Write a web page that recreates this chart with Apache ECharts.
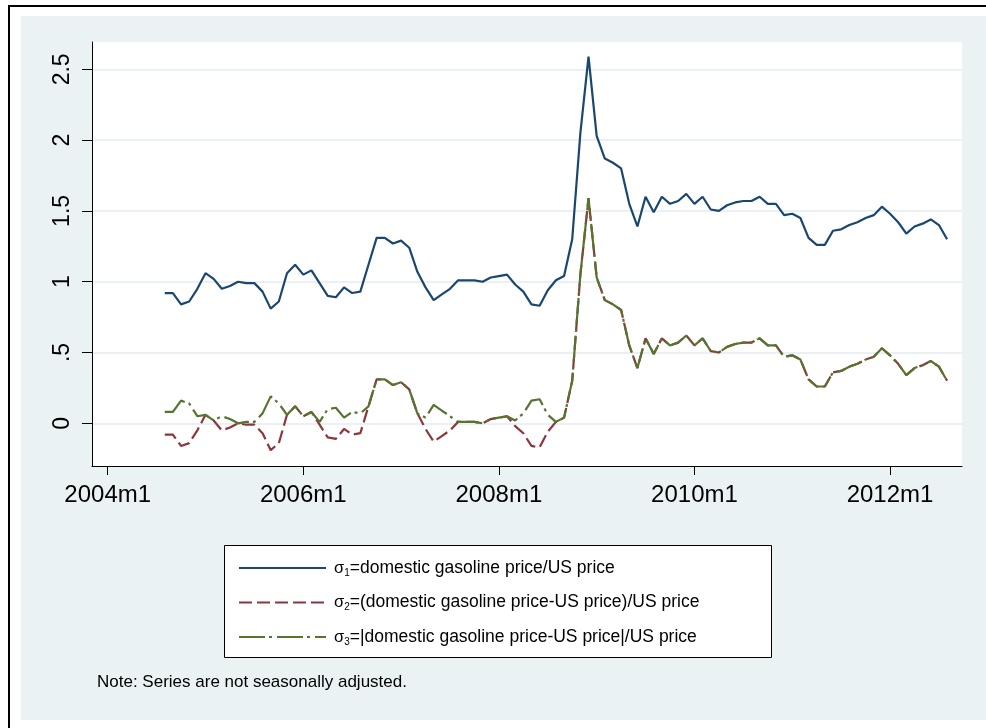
<!DOCTYPE html>
<html><head><meta charset="utf-8">
<script src="https://cdn.jsdelivr.net/npm/echarts@6/dist/echarts.min.js"></script>
<style>
html,body{margin:0;padding:0;background:#fff;}
#wrap{position:relative;width:986px;height:728px;overflow:hidden;background:#fff;}
#frame{position:absolute;left:8px;top:5px;width:1200px;height:1000px;border:2px solid #000;box-sizing:border-box;}
#panel{position:absolute;left:21px;top:16px;width:1000px;height:704px;background:#eaf2f3;}
#chart{position:absolute;left:0;top:0;width:986px;height:728px;}
</style></head><body>
<div id="wrap"><div id="frame"></div><div id="panel"></div><div id="chart"></div></div>
<script>
// first observation: 2004m8, monthly through 2012m8
const firstYear = 2004, firstMonth = 8;

const sigma1 = [
  0.92,0.92,0.84,0.86,0.95,1.06,1.02,0.95,0.97,1.00,0.99,0.99,0.93,0.81,0.86,1.06,1.12,
  1.05,1.08,0.99,0.90,0.89,0.96,0.92,0.93,1.12,1.31,1.31,1.27,
  1.29,1.24,1.07,0.96,0.87,0.91,0.95,1.01,1.01,1.01,1.00,1.03,
  1.04,1.05,0.98,0.93,0.84,0.83,0.94,1.01,1.04,1.30,2.05,2.59,
  2.03,1.87,1.84,1.80,1.55,1.39,1.60,1.49,1.60,1.55,1.57,1.62,
  1.55,1.60,1.51,1.50,1.54,1.56,1.57,1.57,1.60,1.55,1.55,1.47,
  1.48,1.45,1.31,1.26,1.26,1.36,1.37,1.40,1.42,1.45,1.47,1.53,
  1.48,1.42,1.34,1.39,1.41,1.44,1.40,1.30
];
const sigma2 = [
  -0.08,-0.08,-0.16,-0.14,-0.05,0.06,0.02,-0.05,-0.03,0.00,-0.01,-0.01,-0.07,-0.19,-0.14,0.06,0.12,
  0.05,0.08,-0.01,-0.10,-0.11,-0.04,-0.08,-0.07,0.12,0.31,0.31,0.27,
  0.29,0.24,0.07,-0.04,-0.13,-0.09,-0.05,0.01,0.01,0.01,0.00,0.03,
  0.04,0.05,-0.02,-0.07,-0.16,-0.17,-0.06,0.01,0.04,0.30,1.05,1.59,
  1.03,0.87,0.84,0.80,0.55,0.39,0.60,0.49,0.60,0.55,0.57,0.62,
  0.55,0.60,0.51,0.50,0.54,0.56,0.57,0.57,0.60,0.55,0.55,0.47,
  0.48,0.45,0.31,0.26,0.26,0.36,0.37,0.40,0.42,0.45,0.47,0.53,
  0.48,0.42,0.34,0.39,0.41,0.44,0.40,0.30
];
const sigma3 = [
  0.08,0.08,0.16,0.14,0.05,0.06,0.02,0.05,0.03,0.00,0.01,0.01,0.07,0.19,0.14,0.06,0.12,
  0.05,0.08,0.01,0.10,0.11,0.04,0.08,0.07,0.12,0.31,0.31,0.27,
  0.29,0.24,0.07,0.04,0.13,0.09,0.05,0.01,0.01,0.01,0.00,0.03,
  0.04,0.05,0.02,0.07,0.16,0.17,0.06,0.01,0.04,0.30,1.05,1.59,
  1.03,0.87,0.84,0.80,0.55,0.39,0.60,0.49,0.60,0.55,0.57,0.62,
  0.55,0.60,0.51,0.50,0.54,0.56,0.57,0.57,0.60,0.55,0.55,0.47,
  0.48,0.45,0.31,0.26,0.26,0.36,0.37,0.40,0.42,0.45,0.47,0.53,
  0.48,0.42,0.34,0.39,0.41,0.44,0.40,0.30
];

const xTicks = [0, 24, 48, 72, 96];            // months since 2004m1
const xTickLabels = ['2004m1','2006m1','2008m1','2010m1','2012m1'];
const yTicks = [0, 0.5, 1, 1.5, 2, 2.5];
const yTickLabels = ['0', '.5', '1', '1.5', '2', '2.5'];

const seriesNames = ['sigma1', 'sigma2', 'sigma3'];
const legendSub = ['1', '2', '3'];
const legendText = [
  '=domestic gasoline price/US price',
  '=(domestic gasoline price-US price)/US price',
  '=|domestic gasoline price-US price|/US price'
];
const noteText = 'Note: Series are not seasonally adjusted.';

const offset = (firstYear - 2004) * 12 + (firstMonth - 1);
const toXY = arr => arr.map((v, i) => [offset + i, v]);

const FONT = '"Liberation Sans", Arial, sans-serif';
const chart = echarts.init(document.getElementById('chart'), null, {renderer: 'canvas'});

chart.setOption({
  animation: false,
  backgroundColor: 'transparent',
  grid: {
    left: 92, top: 42, width: 870, height: 424,
    show: true, backgroundColor: '#ffffff', borderWidth: 0
  },
  xAxis: {
    type: 'value', min: -1.927, max: 104.83,
    axisLine: {show: true, onZero: false, lineStyle: {color: '#000', width: 1}},
    axisTick: {show: true, length: 9, customValues: xTicks, lineStyle: {color: '#000', width: 1}},
    axisLabel: {
      customValues: xTicks, margin: 17, color: '#000', fontFamily: FONT, fontSize: 24,
      formatter: v => xTickLabels[xTicks.indexOf(v)] ?? ''
    },
    splitLine: {show: false}
  },
  yAxis: {
    type: 'value', min: -0.3016, max: 2.693,
    axisLine: {show: true, onZero: false, lineStyle: {color: '#000', width: 1}},
    axisTick: {show: true, length: 10, customValues: yTicks, lineStyle: {color: '#000', width: 1}},
    axisLabel: {
      customValues: yTicks, margin: 18, rotate: 90, color: '#000', fontFamily: FONT, fontSize: 23,
      formatter: v => yTickLabels[yTicks.indexOf(v)] ?? ''
    },
    splitLine: {show: true, lineStyle: {color: '#e3ebef', width: 1.5}}
  },
  legend: {
    orient: 'vertical', left: 233, top: 553,
    itemWidth: 87, itemHeight: 20, itemGap: 14.5,
    data: seriesNames,
    itemStyle: {opacity: 0, color: 'transparent', borderWidth: 0},
    lineStyle: {width: 2},
    formatter: name => {
      const i = seriesNames.indexOf(name);
      return '{g|σ}{sub|' + legendSub[i] + '}{t|' + legendText[i] + '}';
    },
    textStyle: {
      color: '#000', fontFamily: FONT, fontSize: 17.5, lineHeight: 20,
      rich: {
        g: {fontSize: 16.5, fontFamily: FONT, color: '#000', padding: [0, 0, 0, 3]},
        sub: {fontSize: 10, fontFamily: FONT, color: '#000', verticalAlign: 'bottom', padding: [0, 0, 0, 0]},
        t: {fontSize: 17.5, fontFamily: FONT, color: '#000'}
      }
    }
  },
  graphic: {
    elements: [
      {type: 'rect', left: 224, top: 545, z: 1,
       shape: {width: 547, height: 112},
       style: {fill: '#ffffff', stroke: '#000', lineWidth: 1}},
      {type: 'text', left: 97, top: 674, z: 1,
       style: {text: noteText, fill: '#000', font: '17px ' + FONT}}
    ]
  },
  series: [
    {name: seriesNames[0], type: 'line', data: toXY(sigma1), symbol: 'none', z: 3,
     lineStyle: {color: '#1a476f', width: 2.2}, itemStyle: {color: '#1a476f'}},
    {name: seriesNames[1], type: 'line', data: toXY(sigma2), symbol: 'none', z: 4,
     lineStyle: {color: '#90353b', width: 2.2, type: [13, 5]}, itemStyle: {color: '#90353b'}},
    {name: seriesNames[2], type: 'line', data: toXY(sigma3), symbol: 'none', z: 5,
     lineStyle: {color: '#55752f', width: 2.2, type: [26, 4, 3, 5]}, itemStyle: {color: '#55752f'}}
  ]
});
</script>
</body></html>
